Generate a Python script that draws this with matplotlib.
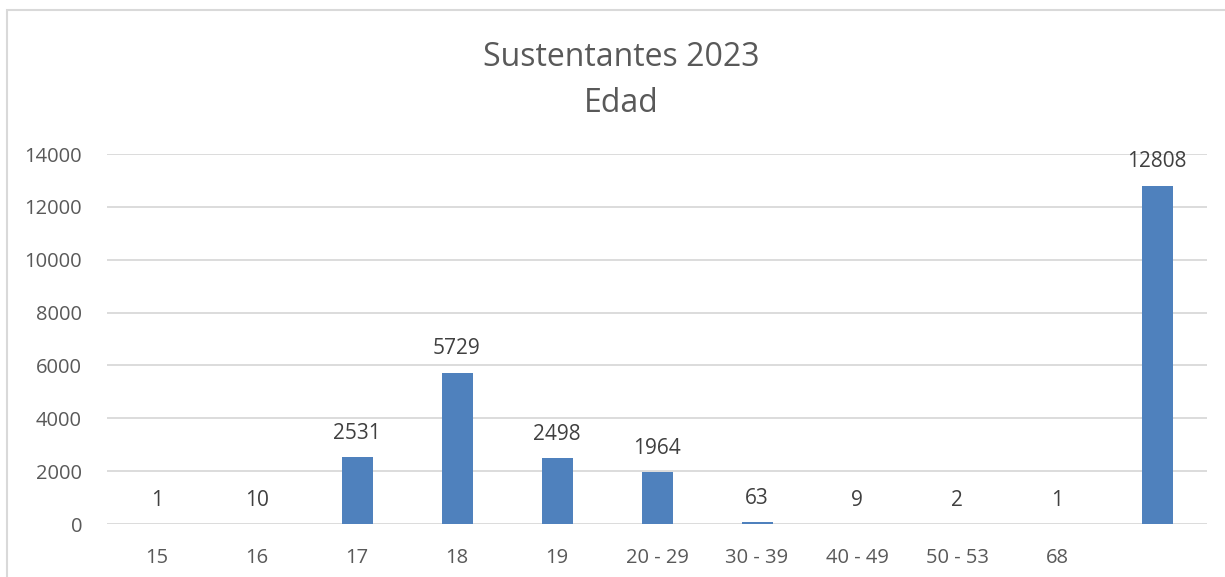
import matplotlib
matplotlib.use("Agg")
import matplotlib.pyplot as plt
from matplotlib.patches import Rectangle

categories = ["15", "16", "17", "18", "19", "20 - 29", "30 - 39", "40 - 49", "50 - 53", "68", ""]
values = [1, 10, 2531, 5729, 2498, 1964, 63, 9, 2, 1, 12808]
yticks = [0, 2000, 4000, 6000, 8000, 10000, 12000, 14000]

TEXT = "#595959"
GRID = "#d9d9d9"
BAR = "#4f81bd"

plt.rcParams["font.family"] = ["Open Sans", "DejaVu Sans"]

W, H = 1225, 577
fig = plt.figure(figsize=(W / 100, H / 100), dpi=100)
ax = fig.add_axes([107 / W, 1 - 524 / H, 1100 / W, 370 / H])

x = list(range(len(categories)))
ax.bar(x, values, width=0.31, color=BAR, zorder=3)
for xi, v in zip(x, values):
    ax.annotate(str(v), (xi, v), xytext=(0, 17), textcoords="offset points",
                ha="center", va="center", fontsize=15, color="#404040")

ax.set_xlim(-0.5, len(categories) - 0.5)
ax.set_ylim(0, 14000)
ax.set_yticks(yticks)
ax.set_xticks(x)
ax.set_xticklabels(categories)
ax.tick_params(length=0, labelsize=14.5, colors=TEXT)
ax.tick_params(axis="x", pad=17)
ax.tick_params(axis="y", pad=18)
ax.grid(axis="y", color=GRID, linewidth=1.3, zorder=0)
for s in ax.spines.values():
    s.set_visible(False)

fig.text(621 / W, 1 - 58 / H, "Sustentantes 2023", ha="center", va="center",
         fontsize=23, color=TEXT)
fig.text(621 / W, 1 - 103 / H, "Edad", ha="center", va="center",
         fontsize=23, color=TEXT)

fig.patches.append(Rectangle((7 / W, -0.1), 2, 1.1 - 10 / H, transform=fig.transFigure,
                             fill=False, edgecolor=GRID, linewidth=1.5))

fig.savefig("out.png", dpi=100)
